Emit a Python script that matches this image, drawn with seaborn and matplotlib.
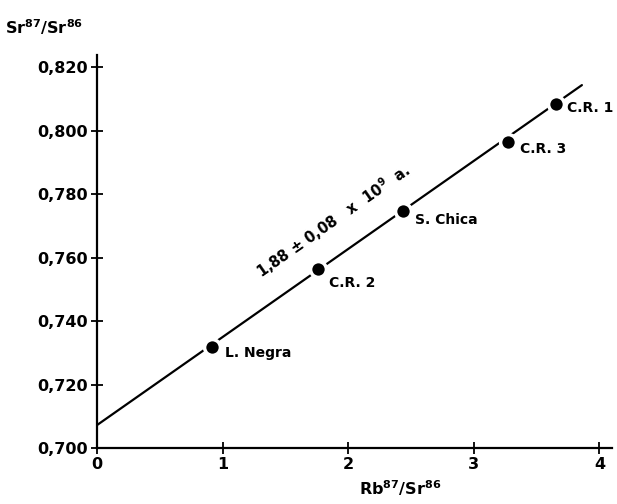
import matplotlib
matplotlib.use('Agg')
import matplotlib.pyplot as plt
import seaborn as sns
import pandas as pd

# datos de la isocrona Rb/Sr
samples = ['L. Negra', 'C.R. 2', 'S. Chica', 'C.R. 3', 'C.R. 1']
rb_sr = [0.92, 1.76, 2.44, 3.27, 3.65]
sr_sr = [0.7318, 0.7564, 0.7746, 0.7964, 0.8083]

# recta de la isocrona
line_x = [0.0, 3.86]
line_y = [0.7072, 0.8143]

x_ticks = [0, 1, 2, 3, 4]
x_ticklabels = ['0', '1', '2', '3', '4']
y_ticks = [0.700, 0.720, 0.740, 0.760, 0.780, 0.800, 0.820]
y_ticklabels = ['0,700', '0,720', '0,740', '0,760', '0,780', '0,800', '0,820']

age_label = '1,88 ± 0,08   x  10$^{9}$  a.'

sns.set_theme(style='ticks')
plt.rcParams['font.family'] = ['DejaVu Sans']
plt.rcParams['font.weight'] = 'bold'
plt.rcParams['text.color'] = 'black'
plt.rcParams['mathtext.fontset'] = 'custom'
plt.rcParams['mathtext.rm'] = 'DejaVu Sans:bold'
plt.rcParams['mathtext.default'] = 'rm'

fig = plt.figure(figsize=(6.17, 5.04), dpi=100)
ax = fig.add_axes([0.157, 0.111, 0.835, 0.780])

df = pd.DataFrame({'x': rb_sr, 'y': sr_sr, 'muestra': samples})
line_df = pd.DataFrame({'x': line_x, 'y': line_y})

sns.lineplot(data=line_df, x='x', y='y', color='black', linewidth=1.6, ax=ax)
sns.scatterplot(data=df, x='x', y='y', color='black', s=130,
                edgecolor='white', linewidth=2.5, zorder=3, ax=ax)

# etiquetas de las muestras (desplazamiento en puntos)
offsets = [(9, -4), (8, -10), (8, -6), (9, -5), (8, -3)]
for (_, row), off in zip(df.iterrows(), offsets):
    ax.annotate(row['muestra'], (row['x'], row['y']), xytext=off,
                textcoords='offset points', ha='left', va='center',
                fontsize=10, color='black')

ax.text(1.88, 0.7716, age_label, rotation=35, rotation_mode='anchor',
        ha='center', va='center', fontsize=10.5, color='black')

ax.set_xlim(0, 4.1)
ax.set_ylim(0.700, 0.8238)
ax.set_xticks(x_ticks)
ax.set_xticklabels(x_ticklabels)
ax.set_yticks(y_ticks)
ax.set_yticklabels(y_ticklabels)
ax.tick_params(direction='inout', length=9, width=1.3, labelsize=11.5,
               colors='black', pad=2)
ax.set_xlabel('')
ax.set_ylabel('')
sns.despine(ax=ax)
for s in ['left', 'bottom']:
    ax.spines[s].set_linewidth(1.6)
    ax.spines[s].set_color('black')

ax.text(-0.179, 1.045, 'Sr$^{87}$/Sr$^{86}$', transform=ax.transAxes,
        fontsize=11.5, ha='left', va='bottom', color='black')
ax.text(0.588, -0.076, 'Rb$^{87}$/Sr$^{86}$', transform=ax.transAxes,
        fontsize=11.5, ha='center', va='top', color='black')

fig.savefig('out.png', dpi=100)
